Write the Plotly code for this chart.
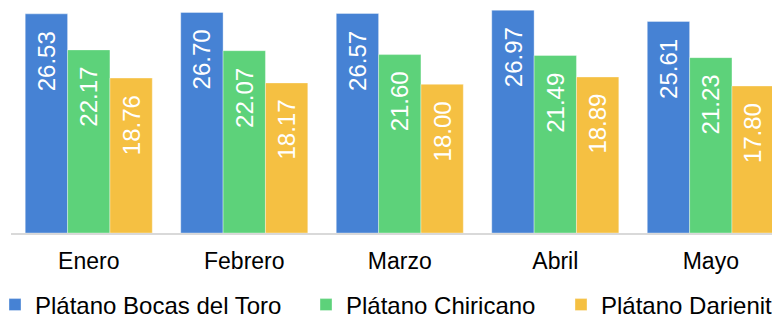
import plotly.graph_objects as go

months = ["Enero", "Febrero", "Marzo", "Abril", "Mayo"]
series_names = ["Plátano Bocas del Toro", "Plátano Chiricano", "Plátano Darienita"]
bocas = [26.53, 26.70, 26.57, 26.97, 25.61]
chiricano = [22.17, 22.07, 21.60, 21.49, 21.23]
darienita = [18.76, 18.17, 18.00, 18.89, 17.80]

colors = ["#4682D4", "#5DD27A", "#F5C042"]
legend_widths = [279, 223, 175]
FONT = "Liberation Sans, Arial, sans-serif"
BARGAP = 0.183

fig = go.Figure()
all_series = [bocas, chiricano, darienita]
for k, (name, vals) in enumerate(zip(series_names, all_series)):
    fig.add_trace(go.Bar(
        x=months, y=vals, name=name,
        marker=dict(color=colors[k], line=dict(color="rgba(255,255,255,0.6)", width=0.6)),
        legendwidth=legend_widths[k],
        hoverinfo="skip",
    ))

# value labels rotated inside bars, near top
w = (1 - BARGAP) / 3
for k, vals in enumerate(all_series):
    for i, v in enumerate(vals):
        fig.add_annotation(
            x=i + (k - 1) * w, y=v, xref="x", yref="y",
            text=f"{v:.2f}", showarrow=False, textangle=-90,
            xanchor="center", yanchor="top", yshift=-15,
            font=dict(family=FONT, size=24, color="white"),
        )

W, H = 772, 308
fig.update_layout(
    width=W, height=H,
    margin=dict(l=3, r=0, t=0, b=83, autoexpand=False),
    paper_bgcolor="white", plot_bgcolor="white",
    barmode="group", bargap=BARGAP, bargroupgap=0,
    font=dict(family=FONT, size=23, color="#000000"),
    showlegend=True,
    legend=dict(orientation="h", xref="container", yref="container",
                x=0, y=1 - 297 / H, xanchor="left", yanchor="middle",
                indentation=-13,
                font=dict(family=FONT, size=24, color="#000000"),
                bgcolor="rgba(0,0,0,0)", itemclick=False),
    xaxis=dict(range=[-0.5, 4.445], showgrid=False, zeroline=False,
               showline=True, linecolor="#d9d9d9", linewidth=1.5,
               ticks="", ticklabelstandoff=7,
               tickfont=dict(family=FONT, size=23, color="#000000")),
    yaxis=dict(range=[0, 27.24], visible=False, showgrid=False, zeroline=False),
)

fig.write_html("out.html")
